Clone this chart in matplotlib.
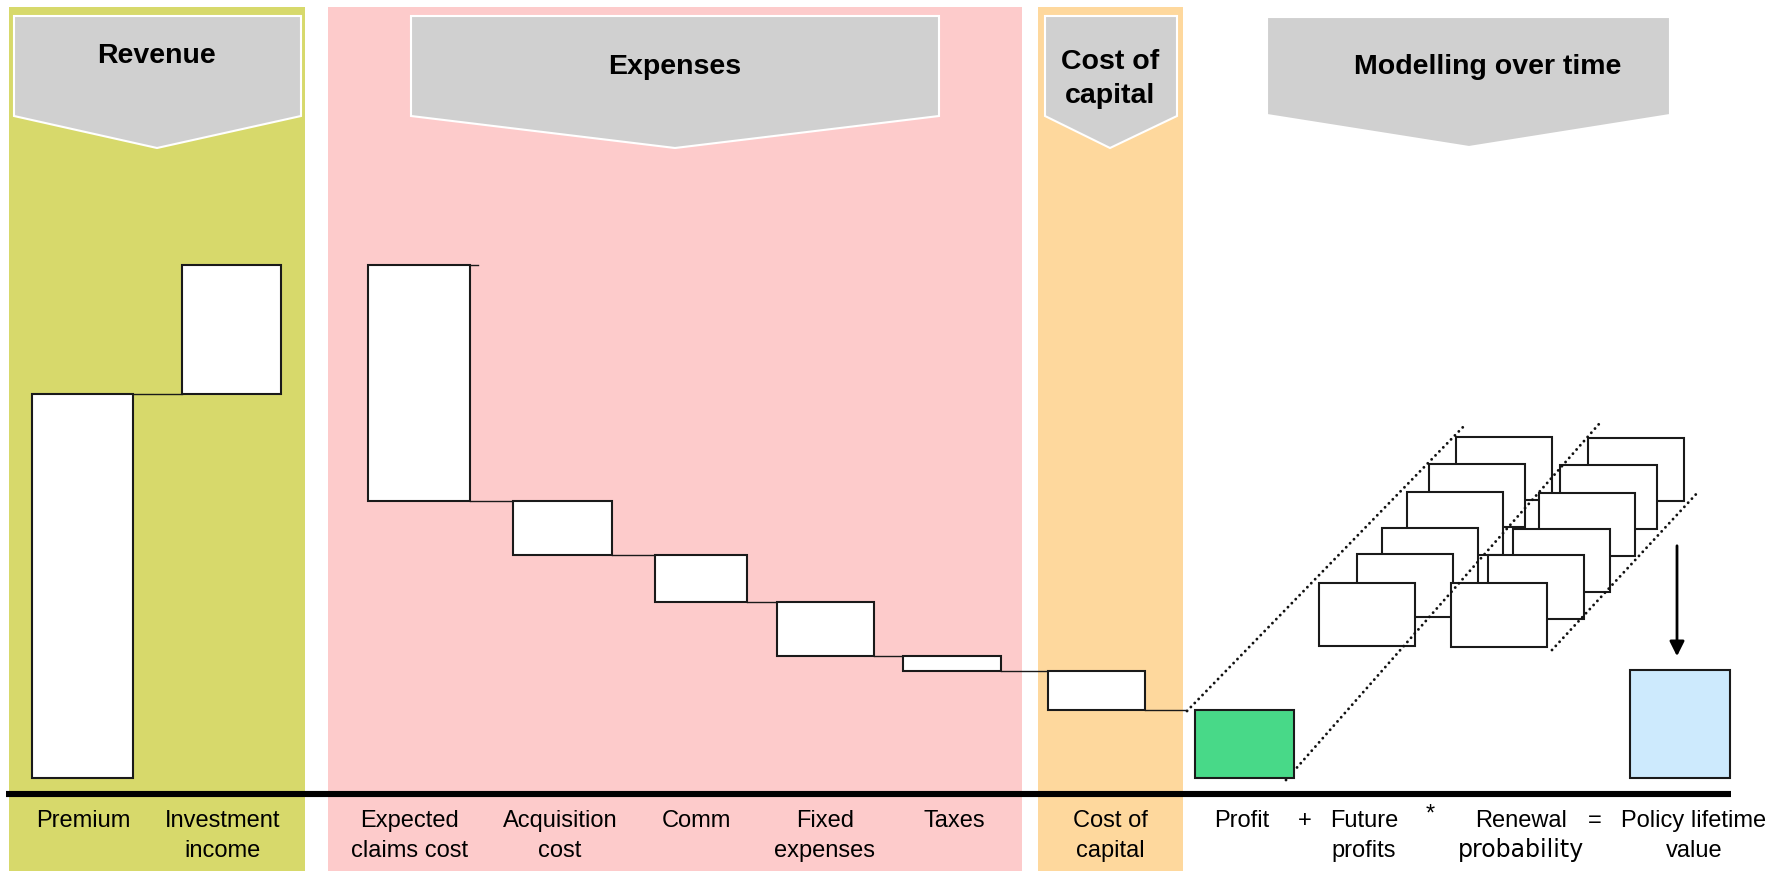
import numpy as np
import matplotlib
matplotlib.use('Agg')
import matplotlib.pyplot as plt
from matplotlib.patches import Polygon, Rectangle

plt.rcParams['font.family'] = ['Liberation Sans', 'DejaVu Sans']

W, H = 1783, 871

# --- data: policy value waterfall (premium = 100) ---
revenue_labels = ['Premium', 'Investment\nincome']
revenue_values = [100.0, 33.7]
expense_labels = ['Expected\nclaims cost', 'Acquisition\ncost', 'Comm', 'Fixed\nexpenses', 'Taxes']
expense_values = [-61.5, -14.1, -12.3, -14.2, -3.7]
capital_labels = ['Cost of\ncapital']
capital_values = [-10.2]
lifetime_value = 28.0
section_titles = ['Revenue', 'Expenses', 'Cost of\ncapital', 'Modelling over time']
formula_labels = ['Profit', '+', 'Future\nprofits', '*', 'Renewal\nprobability', '=', 'Policy lifetime\nvalue']

# --- layout (pixels of the 1783x871 canvas) ---
bar_left = [32, 182, 368.5, 513, 655, 777, 903, 1048, 1195, 1630]
bar_right = [133, 281, 470, 612, 747.5, 874.5, 1001, 1145, 1294, 1730]
label_x = [83, 223, 410, 560, 696, 825, 954, 1110]
formula_x = [1242, 1305, 1364, 1430, 1521, 1595, 1694]
y_zero, px_per_unit = 777.5, 3.832   # bar base and vertical scale

panels = [(9, 305, '#d7d96b'), (328, 1022, '#fdcbcb'), (1038, 1183, '#fed89d')]
# x0, x1, top, shoulder, tip_y, tip_x
headers = [(14, 301, 16, 116, 148, 157), (411, 939, 16, 116, 148, 675),
           (1045, 1177, 16, 116, 148, 1110), (1267, 1670, 17, 115, 147, 1469)]
title_pos = [(157, [56]), (675, [67]), (1110, [62, 96]), (1488, [67])]

left_stack = [(1319, 583, 1415, 646), (1357, 554, 1453, 617), (1382, 528, 1478, 591),
              (1407, 492, 1503, 555), (1429, 464, 1525, 527), (1456, 437, 1552, 500)]
right_stack = [(1451, 583, 1547, 647), (1488, 555, 1584, 619), (1513, 529, 1610, 592),
               (1539, 493, 1635, 556), (1560, 465, 1657, 529), (1588, 438, 1684, 501)]
dotted = [((1187, 711), (1466, 424)), ((1286, 780), (1599, 424)), ((1552, 650), (1699, 491))]

fig = plt.figure(figsize=(W / 100, H / 100), dpi=100)
bg = fig.add_axes([0, 0, 1, 1])
bg.set_xlim(0, W)
bg.set_ylim(H, 0)
bg.axis('off')

ax = fig.add_axes([0, 0, 1, 1])
ax.set_xlim(0, W)
ax.set_ylim((y_zero - H) / px_per_unit, y_zero / px_per_unit)
ax.axis('off')
ax.patch.set_visible(False)

# coloured section panels
for x0, x1, col in panels:
    bg.add_patch(Rectangle((x0, 7), x1 - x0, H, facecolor=col, edgecolor='none', zorder=0))

# chevron headers
for (x0, x1, top, sh, ty, tx), title, (cx, ys) in zip(headers, section_titles, title_pos):
    pts = [(x0, top), (x1, top), (x1, sh), (tx, ty), (x0, sh)]
    bg.add_patch(Polygon(pts, closed=True, facecolor='#d0d0d0', edgecolor='white', lw=1.5, zorder=1))
    for line, y in zip(title.split('\n'), ys):
        bg.text(cx, y, line, ha='center', va='center', fontsize=20.5, fontweight='bold', zorder=2)

# baseline
bg.plot([6, 1731], [793.5, 793.5], color='black', lw=4.4, solid_capstyle='butt', zorder=3)

# waterfall bars
steps = revenue_values + expense_values + capital_values
ends = np.cumsum(steps)
starts = ends - np.array(steps)
profit = ends[-1]
bottoms = list(np.minimum(starts, ends)) + [0, 0]
heights = list(np.abs(steps)) + [profit, lifetime_value]
centers = [(l + r) / 2 for l, r in zip(bar_left, bar_right)]
widths = [r - l for l, r in zip(bar_left, bar_right)]
colors = ['white'] * len(steps) + ['#48d988', '#cdeafd']
ax.bar(centers, heights, bottom=bottoms, width=widths, color=colors,
       edgecolor='#1a1a1a', linewidth=1.5, zorder=4)

# connectors between consecutive bars
for i in range(len(steps)):
    if i == 1:
        # stub on top of expected claims bar
        ax.plot([bar_left[2] + 27, bar_right[2] + 8], [ends[1], ends[1]], color='#1a1a1a', lw=1.0, zorder=3)
        continue
    x_end = bar_left[i + 1] if i + 1 < len(steps) else dotted[0][0][0]
    ax.plot([bar_right[i], x_end], [ends[i], ends[i]], color='#1a1a1a', lw=1.0, zorder=3)

# stacks of future periods
for stack in (left_stack, right_stack):
    for x0, y0, x1, y1 in stack[::-1]:
        bg.add_patch(Rectangle((x0, y0), x1 - x0, y1 - y0, facecolor='white',
                               edgecolor='#1a1a1a', lw=1.5, zorder=4))
for (xa, ya), (xb, yb) in dotted:
    bg.plot([xa, xb], [ya, yb], color='#111111', lw=2.1, linestyle=(0, (0.01, 1.9)),
            dash_capstyle='round', zorder=5)

bg.annotate('', xy=(1677, 659), xytext=(1677, 543),
            arrowprops=dict(arrowstyle='-|>', color='black', lw=2.0, mutation_scale=22), zorder=5)

# bottom labels
base1, base2 = 827, 857
for x, lab in zip(label_x, revenue_labels + expense_labels + capital_labels):
    for line, y in zip(lab.split('\n'), (base1, base2)):
        bg.text(x, y, line, ha='center', va='baseline', fontsize=17, zorder=6)
for x, lab in zip(formula_x, formula_labels):
    for line, y in zip(lab.split('\n'), (base1, base2)):
        fam = ['DejaVu Sans'] if line == 'probability' else ['Liberation Sans']
        bg.text(x, y - (6 if line == '*' else 0), line, ha='center', va='baseline',
                fontsize=17, family=fam, zorder=6)

fig.savefig('out.png', dpi=100)
